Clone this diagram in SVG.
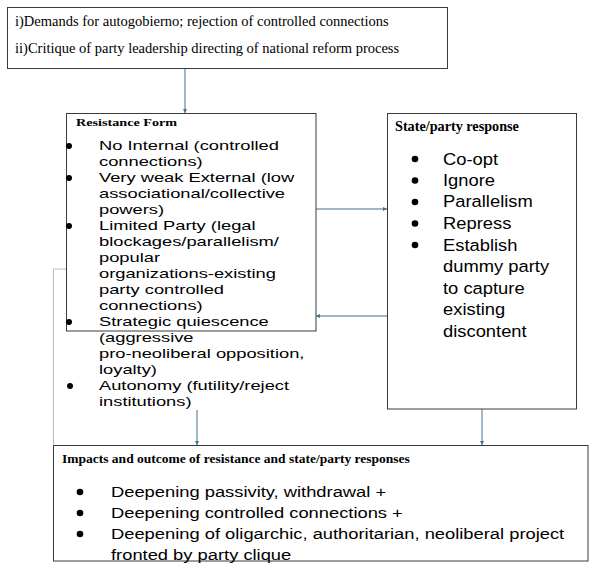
<svg xmlns="http://www.w3.org/2000/svg" width="597" height="564" viewBox="0 0 597 564">
<defs>
<style>
.box{fill:#fff;stroke:#3a3a3a;stroke-width:1}
.ser{font-family:"Liberation Serif","Times New Roman",serif;fill:#000}
.ttl{font-family:"Liberation Serif","Times New Roman",serif;font-weight:bold;fill:#000}
.sans{font-family:"Liberation Sans",Arial,sans-serif;fill:#000}
.con{fill:none;stroke:#3f7391;stroke-width:1}
.fb{fill:none;stroke:#a9c2d3;stroke-width:1}
</style>
<marker id="ah" viewBox="0 0 6 6" refX="6" refY="3" markerWidth="4" markerHeight="4" orient="auto" markerUnits="userSpaceOnUse">
<path d="M0,0 L6,3 L0,6 z" fill="#3f7391"/>
</marker>
</defs>
<rect width="597" height="564" fill="#fff"/>

<g id="connectors">
<line class="con" x1="185" y1="68" x2="185" y2="113" marker-end="url(#ah)"/>
<line class="con" x1="316" y1="209" x2="387" y2="209" marker-end="url(#ah)"/>
<line class="con" x1="387" y1="316" x2="316" y2="316" marker-end="url(#ah)"/>
<line class="con" x1="197" y1="410" x2="197" y2="445" marker-end="url(#ah)"/>
<line class="con" x1="482" y1="409" x2="482" y2="445" marker-end="url(#ah)"/>
<polyline class="fb" points="66,269 53.5,269 53.5,513 64,513"/>
</g>

<g id="demands">
<rect class="box" x="7.5" y="7.5" width="440" height="61"/>
<text class="ser" font-size="14.5" x="15" y="26">i)Demands for autogobierno; rejection of controlled connections</text>
<text class="ser" font-size="14.5" x="15" y="53">ii)Critique of party leadership directing of national reform process</text>
</g>

<g id="resistance">
<rect class="box" x="66.5" y="113.5" width="249.5" height="217.5"/>
<text class="ttl" font-size="10.5" transform="translate(76,126) scale(1.35,1)">Resistance Form</text>
<g fill="#000">
<circle cx="69" cy="146" r="3"/>
<circle cx="69" cy="178" r="3"/>
<circle cx="69" cy="226" r="3"/>
<circle cx="69" cy="322" r="3"/>
<circle cx="70" cy="386" r="3"/>
</g>
<g class="sans" font-size="12.8" transform="translate(99,0) scale(1.43,1)">
<text x="0" y="150">No Internal (controlled</text>
<text x="0" y="166">connections)</text>
<text x="0" y="182">Very weak External (low</text>
<text x="0" y="198">associational/collective</text>
<text x="0" y="214">powers)</text>
<text x="0" y="230">Limited Party (legal</text>
<text x="0" y="246">blockages/parallelism/</text>
<text x="0" y="262">popular</text>
<text x="0" y="278">organizations-existing</text>
<text x="0" y="294">party controlled</text>
<text x="0" y="310">connections)</text>
<text x="0" y="326">Strategic quiescence</text>
<text x="0" y="342">(aggressive</text>
<text x="0" y="358">pro-neoliberal opposition,</text>
<text x="0" y="374">loyalty)</text>
<text x="0" y="390">Autonomy (futility/reject</text>
<text x="0" y="406">institutions)</text>
</g>
</g>

<g id="state">
<rect class="box" x="387.5" y="113.5" width="189" height="295.5"/>
<text class="ttl" font-size="14.2" x="395" y="131">State/party response</text>
<g fill="#000">
<circle cx="415" cy="159" r="3.3"/>
<circle cx="415" cy="180.5" r="3.3"/>
<circle cx="415" cy="202" r="3.3"/>
<circle cx="415" cy="223.5" r="3.3"/>
<circle cx="415" cy="245" r="3.3"/>
</g>
<g class="sans" font-size="17" transform="translate(443,0) scale(1.08,1)">
<text x="0" y="165">Co-opt</text>
<text x="0" y="186">Ignore</text>
<text x="0" y="207.5">Parallelism</text>
<text x="0" y="229">Repress</text>
<text x="0" y="251">Establish</text>
<text x="0" y="272.5">dummy party</text>
<text x="0" y="294">to capture</text>
<text x="0" y="315.5">existing</text>
<text x="0" y="337">discontent</text>
</g>
</g>

<g id="impacts">
<rect class="box" x="53.5" y="445.5" width="534.5" height="115.5"/>
<text class="ttl" font-size="13.5" x="62" y="463">Impacts and outcome of resistance and state/party responses</text>
<g fill="#000">
<circle cx="80" cy="492" r="3.3"/>
<circle cx="80" cy="513" r="3.3"/>
<circle cx="80" cy="534" r="3.3"/>
</g>
<g class="sans" font-size="14" transform="translate(111,0) scale(1.31,1)">
<text x="0" y="497">Deepening passivity, withdrawal +</text>
<text x="0" y="518">Deepening controlled connections +</text>
<text x="0" y="539">Deepening of oligarchic, authoritarian, neoliberal project</text>
<text x="0" y="560">fronted by party clique</text>
</g>
</g>
</svg>
